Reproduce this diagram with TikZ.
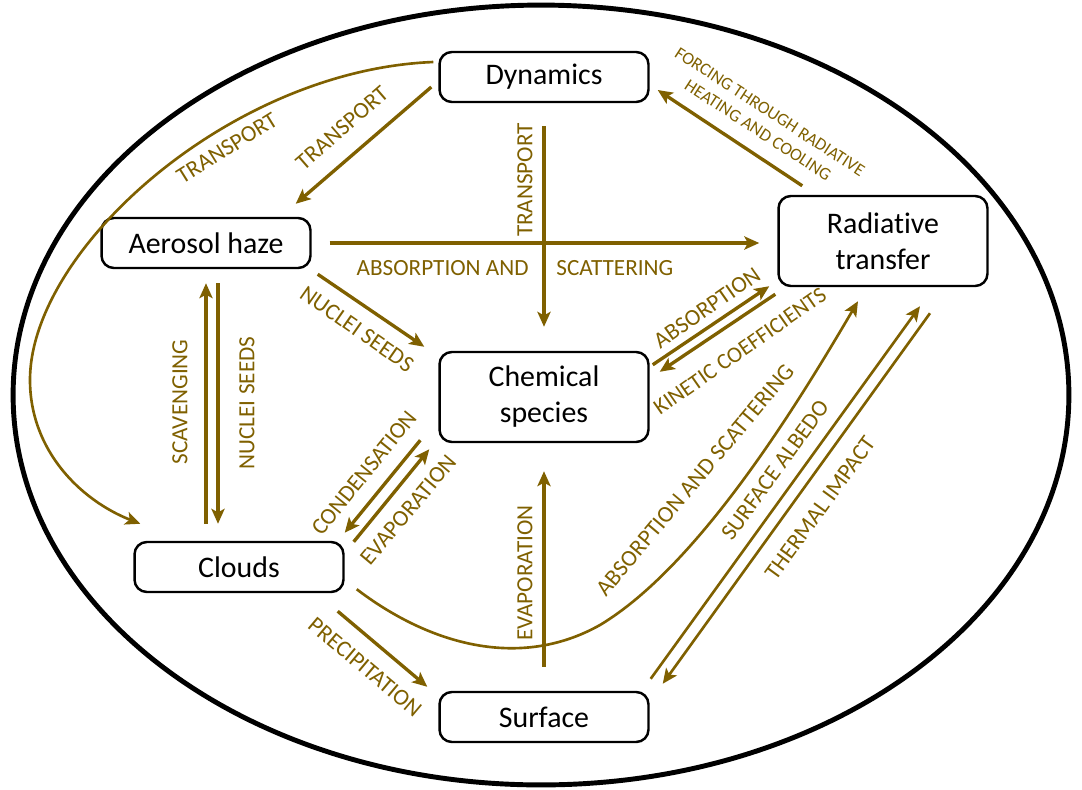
\documentclass[tikz,border=0pt]{standalone}
\usepackage{fontspec}
\setmainfont{Carlito}[Ligatures=NoCommon]
\usetikzlibrary{arrows.meta,calc}
\definecolor{brn}{HTML}{7F6000}
\tikzset{
    %Define standard arrow tip
    >={Stealth[length=8.5pt,width=7.5pt,inset=2pt]},
    % boxes
    box/.style={
           draw=black,
           line width=1.4pt,
           rounded corners=7pt,
           minimum width=4.18cm,
           minimum height=1cm,
           align=center,
           font=\fontsize{17}{20.5}\selectfont},
    bigbox/.style={box, minimum height=1.8cm},
    % Define arrow styles
    flow/.style={->, draw=brn, line width=1.9pt},
    longflow/.style={->, draw=brn, line width=1.5pt},
    lab/.style={text=brn, inner sep=1pt, font=\fontsize{13.2}{15}\selectfont}
}
\begin{document}
\begin{tikzpicture}[x=0.02cm,y=-0.02cm]
\useasboundingbox (0,0) rectangle (1082,789);
\draw[line width=2.8pt] (541,395) ellipse [x radius=10.56cm, y radius=7.8cm];

\node[box] (dyn) at (544,77) {Dynamics};
\node[box] (aer) at (206,243) {Aerosol haze};
\node[bigbox] (rad) at (883,241) {Radiative\\transfer};
\node[bigbox] (chem) at (544,397) {Chemical\\species};
\node[box] (cld) at (239,567) {Clouds};
\node[box] (surf) at (544,717) {Surface};

% from dynamics
\draw[flow] ($(dyn.west)+(-7,10)$) -- ($(aer.north east)+(-16,-13)$);
\draw[longflow] ($(dyn.west)+(-5,-15)$) .. controls (230,70) and (30,250) .. (30,380)
      .. controls (30,450) and (80,500) .. ($(cld.north west)+(7,-17)$);
\draw[flow] ($(dyn.south)+(0,23)$) -- ($(chem.north)+(0,-24)$);
\draw[flow] ($(rad.north west)+(25,-9)$) -- ($(dyn.east)+(8,13)$);

% from aerosol haze
\draw[flow] ($(aer.east)+(18,0)$) -- ($(rad.west |- aer.east)+(-18,0)$);
\draw[flow] ($(aer.south east)+(6,5)$) -- ($(chem.north west)+(-14,-4)$);
\draw[flow] ($(aer.south |- cld.north)+(0,-17)$) -- ($(aer.south)+(0,14)$);
\draw[flow] ($(aer.south)+(12,14)$) -- ($(aer.south |- cld.north)+(12,-17)$);

% chemical species
\draw[flow] ($(chem.north east)+(3,14)$) -- ($(rad.south west)+(-8,-1)$);
\draw[flow] ($(rad.south west)+(-2,7)$) -- ($(chem.north east)+(10,21)$);
\draw[flow] ($(chem.south west)+(-18,-3)$) -- ($(cld.north east)+(0,-8)$);
\draw[flow] ($(cld.north east)+(9,1)$) -- ($(chem.south west)+(-9,6)$);

% clouds and surface
\draw[longflow] ($(cld.south east)+(12,-4)$) .. controls (430,645) and (520,670) .. (600,625)
      .. controls (700,565) and (800,400) .. ($(rad.south)+(-25,14)$);
\draw[flow] ($(cld.south east)+(-7,18)$) -- ($(surf.north west)+(-11,-4)$);
\draw[flow] ($(surf.north)+(0,-24)$) -- ($(chem.south)+(0,28)$);
\draw[longflow] ($(surf.north east)+(1,-12)$) -- ($(rad.south)+(37,19)$);
\draw[longflow] ($(rad.south)+(47,26)$) -- ($(surf.north east)+(13,-7)$);

% labels
\node[lab, rotate=41] (tra) at (342,128) {TRANSPORT};
\node[lab, rotate=32] (trb) at (227,148) {TRANSPORT};
\node[lab, rotate=90] (trc) at (525,180) {TRANSPORT};
\node[lab, rotate=-33, align=center, font=\fontsize{10}{12.5}\selectfont] (forc) at (764,121)
      {FORCING THROUGH RADIATIVE\\HEATING AND COOLING};
\node[lab] (absa) at (515,268) {ABSORPTION AND\hspace{1.2em}SCATTERING};
\node[lab, rotate=-35] (nuca) at (357,329) {NUCLEI SEEDS};
\node[lab, rotate=90] (scav) at (180,402) {SCAVENGING};
\node[lab, rotate=90] (nucb) at (247,403) {NUCLEI SEEDS};
\node[lab, rotate=35] (absb) at (707,308) {ABSORPTION};
\node[lab, rotate=35, font=\fontsize{12.8}{15}\selectfont] (kin) at (740,351) {KINETIC COEFFICIENTS};
\node[lab, rotate=51] (cond) at (364,473) {CONDENSATION};
\node[lab, rotate=50] (evpa) at (408,510) {EVAPORATION};
\node[lab, rotate=50] (absc) at (695,480) {ABSORPTION AND SCATTERING};
\node[lab, rotate=54] (alb) at (775,470) {SURFACE ALBEDO};
\node[lab, rotate=54] (therm) at (820,508) {THERMAL IMPACT};
\node[lab, rotate=-40] (prec) at (365,667) {PRECIPITATION};
\node[lab, rotate=90] (evpb) at (525,573) {EVAPORATION};

\end{tikzpicture}
\end{document}
